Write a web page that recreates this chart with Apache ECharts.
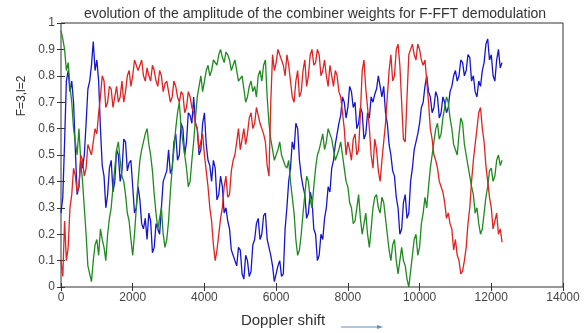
<!DOCTYPE html>
<html>
<head>
<meta charset="utf-8">
<script src="https://cdn.jsdelivr.net/npm/echarts@6/dist/echarts.min.js"></script>
<style>
  html, body { margin: 0; padding: 0; background: #fff; }
  #chart { width: 584px; height: 333px; }
</style>
</head>
<body>
<div id="chart"></div>
<script>
// one sample every 50 Hz of Doppler shift, starting at 0
var step = 50;

var blue = [
  0.28, 0.34, 0.55, 0.78, 0.82, 0.74, 0.78, 0.70, 0.52, 0.35,
  0.38, 0.48, 0.45, 0.50, 0.62, 0.75, 0.78, 0.84, 0.93, 0.82,
  0.86, 0.78, 0.60, 0.46, 0.42, 0.30, 0.35, 0.45, 0.48, 0.36,
  0.40, 0.52, 0.50, 0.40, 0.44, 0.56, 0.55, 0.44, 0.47, 0.48,
  0.38, 0.28, 0.30, 0.38, 0.33, 0.24, 0.22, 0.26, 0.18, 0.28,
  0.25, 0.13, 0.15, 0.24, 0.22, 0.20, 0.30, 0.40, 0.42, 0.44,
  0.52, 0.43, 0.45, 0.55, 0.58, 0.48, 0.50, 0.62, 0.60, 0.50,
  0.55, 0.66, 0.65, 0.62, 0.72, 0.62, 0.60, 0.50, 0.52, 0.62,
  0.66, 0.54, 0.48, 0.46, 0.40, 0.48, 0.45, 0.33, 0.35, 0.42,
  0.38, 0.28, 0.30, 0.25, 0.22, 0.14, 0.12, 0.12, 0.08, 0.15,
  0.14, 0.05, 0.03, 0.12, 0.10, 0.04, 0.06, 0.16, 0.18, 0.24,
  0.26, 0.18, 0.20, 0.27, 0.28, 0.18, 0.15, 0.12, 0.08, 0.02,
  0.02, 0.08, 0.10, 0.04, 0.05, 0.22, 0.30, 0.40, 0.45, 0.55,
  0.52, 0.62, 0.60, 0.48, 0.42, 0.38, 0.35, 0.26, 0.28, 0.36,
  0.33, 0.22, 0.20, 0.10, 0.12, 0.20, 0.18, 0.26, 0.30, 0.38,
  0.36, 0.45, 0.48, 0.54, 0.58, 0.62, 0.65, 0.72, 0.70, 0.64,
  0.68, 0.76, 0.74, 0.68, 0.70, 0.60, 0.62, 0.68, 0.66, 0.56,
  0.58, 0.66, 0.64, 0.72, 0.70, 0.73, 0.75, 0.80, 0.80, 0.72,
  0.76, 0.66, 0.62, 0.54, 0.50, 0.44, 0.42, 0.34, 0.30, 0.20,
  0.22, 0.32, 0.35, 0.26, 0.28, 0.40, 0.45, 0.52, 0.55, 0.58,
  0.62, 0.68, 0.70, 0.76, 0.80, 0.74, 0.72, 0.66, 0.68, 0.74,
  0.72, 0.64, 0.66, 0.72, 0.70, 0.66, 0.68, 0.74, 0.76, 0.80,
  0.82, 0.78, 0.80, 0.86, 0.85, 0.80, 0.82, 0.88, 0.87, 0.78,
  0.80, 0.74, 0.72, 0.78, 0.76, 0.82, 0.85, 0.92, 0.94, 0.86,
  0.88, 0.80, 0.78, 0.86, 0.90, 0.83, 0.85
];

var red = [
  0.10, 0.04, 0.25, 0.10, 0.15, 0.30, 0.35, 0.45, 0.42, 0.36,
  0.38, 0.50, 0.48, 0.42, 0.45, 0.54, 0.52, 0.50, 0.55, 0.60,
  0.58, 0.66, 0.72, 0.80, 0.78, 0.68, 0.70, 0.76, 0.75, 0.68,
  0.72, 0.76, 0.70, 0.72, 0.78, 0.70, 0.74, 0.80, 0.82, 0.76,
  0.80, 0.86, 0.86, 0.82, 0.84, 0.86, 0.80, 0.78, 0.83, 0.80,
  0.78, 0.84, 0.82, 0.78, 0.76, 0.82, 0.80, 0.74, 0.77, 0.78,
  0.74, 0.70, 0.72, 0.78, 0.76, 0.72, 0.70, 0.74, 0.73, 0.66,
  0.68, 0.74, 0.72, 0.68, 0.66, 0.62, 0.60, 0.52, 0.55, 0.58,
  0.50, 0.44, 0.38, 0.30, 0.25, 0.16, 0.10, 0.14, 0.20, 0.26,
  0.30, 0.38, 0.42, 0.34, 0.35, 0.44, 0.48, 0.50, 0.55, 0.60,
  0.52, 0.56, 0.60, 0.54, 0.58, 0.64, 0.66, 0.60, 0.62, 0.68,
  0.68, 0.62, 0.60, 0.58, 0.55, 0.46, 0.42, 0.70, 0.88, 0.82,
  0.85, 0.90, 0.90, 0.86, 0.84, 0.80, 0.88, 0.84, 0.78, 0.72,
  0.70, 0.78, 0.82, 0.72, 0.74, 0.82, 0.86, 0.76, 0.80, 0.88,
  0.90, 0.84, 0.85, 0.90, 0.88, 0.80, 0.82, 0.86, 0.80, 0.76,
  0.84, 0.80, 0.76, 0.82, 0.80, 0.74, 0.72, 0.66, 0.60, 0.50,
  0.55, 0.52, 0.48, 0.56, 0.58, 0.50, 0.52, 0.66, 0.82, 0.86,
  0.75, 0.68, 0.60, 0.50, 0.45, 0.56, 0.52, 0.44, 0.40, 0.48,
  0.55, 0.62, 0.72, 0.82, 0.88, 0.78, 0.80, 0.90, 0.92, 0.84,
  0.70, 0.56, 0.55, 0.72, 0.88, 0.90, 0.92, 0.88, 0.86, 0.92,
  0.90, 0.86, 0.84, 0.86, 0.78, 0.70, 0.60, 0.56, 0.50, 0.48,
  0.45, 0.40, 0.38, 0.36, 0.32, 0.26, 0.28, 0.24, 0.22, 0.14,
  0.18, 0.12, 0.10, 0.05, 0.06, 0.10, 0.15, 0.24, 0.30, 0.40,
  0.48, 0.54, 0.60, 0.66, 0.68, 0.60, 0.55, 0.46, 0.40, 0.34,
  0.30, 0.22, 0.25, 0.28, 0.20, 0.22, 0.17
];

var green = [
  0.97, 0.94, 0.90, 0.82, 0.85, 0.76, 0.70, 0.60, 0.55, 0.50,
  0.60, 0.48, 0.40, 0.30, 0.20, 0.08, 0.05, 0.02, 0.10, 0.16,
  0.18, 0.12, 0.22, 0.18, 0.15, 0.10, 0.20, 0.26, 0.30, 0.38,
  0.45, 0.52, 0.55, 0.48, 0.42, 0.40, 0.35, 0.28, 0.25, 0.18,
  0.12, 0.20, 0.30, 0.40, 0.48, 0.52, 0.55, 0.58, 0.60, 0.54,
  0.50, 0.44, 0.35, 0.28, 0.22, 0.26, 0.30, 0.20, 0.15, 0.18,
  0.25, 0.36, 0.45, 0.52, 0.60, 0.66, 0.70, 0.60, 0.55, 0.50,
  0.45, 0.38, 0.40, 0.48, 0.55, 0.64, 0.72, 0.76, 0.80, 0.74,
  0.78, 0.82, 0.84, 0.80, 0.82, 0.86, 0.86, 0.84, 0.88, 0.90,
  0.87, 0.85, 0.89, 0.88, 0.86, 0.82, 0.84, 0.86, 0.82, 0.78,
  0.78, 0.80, 0.75, 0.70, 0.72, 0.76, 0.78, 0.74, 0.76, 0.72,
  0.80, 0.82, 0.78, 0.84, 0.86, 0.72, 0.62, 0.56, 0.52, 0.48,
  0.48, 0.52, 0.55, 0.50, 0.50, 0.46, 0.45, 0.48, 0.40, 0.34,
  0.28, 0.18, 0.12, 0.14, 0.20, 0.28, 0.35, 0.42, 0.40, 0.33,
  0.30, 0.38, 0.45, 0.50, 0.52, 0.55, 0.58, 0.52, 0.55, 0.60,
  0.60, 0.56, 0.52, 0.48, 0.48, 0.52, 0.55, 0.50, 0.45, 0.40,
  0.38, 0.32, 0.30, 0.24, 0.25, 0.30, 0.35, 0.26, 0.20, 0.24,
  0.28, 0.20, 0.15, 0.22, 0.30, 0.34, 0.35, 0.30, 0.28, 0.34,
  0.32, 0.26, 0.20, 0.14, 0.10, 0.16, 0.18, 0.10, 0.05, 0.10,
  0.15, 0.10, 0.08, 0.03, 0.00, 0.06, 0.12, 0.18, 0.20, 0.12,
  0.15, 0.24, 0.28, 0.34, 0.30, 0.38, 0.45, 0.50, 0.55, 0.60,
  0.62, 0.56, 0.58, 0.64, 0.68, 0.72, 0.70, 0.64, 0.60, 0.54,
  0.52, 0.50, 0.58, 0.64, 0.62, 0.54, 0.50, 0.46, 0.42, 0.38,
  0.35, 0.28, 0.30, 0.24, 0.20, 0.22, 0.28, 0.34, 0.38, 0.44,
  0.45, 0.40, 0.42, 0.48, 0.50, 0.46, 0.48
];

function pairs(arr) {
  return arr.map(function (v, i) { return [i * step, v]; });
}

var myChart = echarts.init(document.getElementById('chart'), null, { renderer: 'canvas' });

var font = 'Liberation Sans, Arial, sans-serif';
var tickFont = { color: '#444', fontSize: 12, fontFamily: font };
var tickLine = { inside: true, length: 4, lineStyle: { color: '#333' } };

var option = {
  animation: false,
  backgroundColor: '#fff',
  title: {
    text: 'evolution of the amplitude of the combiner weights for F-FFT demodulation',
    left: 310,
    textAlign: 'center',
    top: 2,
    textStyle: { fontSize: 14, fontWeight: 'normal', color: '#333', fontFamily: font }
  },
  grid: {
    left: 61, right: 21, top: 23, bottom: 39,
    show: true, borderColor: '#333', borderWidth: 1
  },
  xAxis: [{
    type: 'value', min: 0, max: 14000, interval: 2000,
    axisLine: { show: false },
    axisTick: tickLine,
    splitLine: { show: false },
    axisLabel: Object.assign({ margin: 5, formatter: function (v) { return String(v); } }, tickFont),
    name: 'Doppler shift',
    nameLocation: 'middle',
    nameGap: 26,
    nameTextStyle: { fontSize: 15, color: '#333', fontFamily: font, padding: [0, 58, 0, 0] }
  }, {
    type: 'value', min: 0, max: 14000, interval: 2000, position: 'top',
    axisLine: { show: false }, axisTick: tickLine,
    axisLabel: { show: false }, splitLine: { show: false }
  }],
  yAxis: [{
    type: 'value', min: 0, max: 1, interval: 0.1,
    axisLine: { show: false },
    axisTick: tickLine,
    splitLine: { show: false },
    axisLabel: Object.assign({ margin: 6, formatter: function (v) { return String(Math.round(v * 10) / 10); } }, tickFont)
  }, {
    type: 'value', min: 0, max: 1, interval: 0.1, position: 'right',
    axisLine: { show: false }, axisTick: tickLine,
    axisLabel: { show: false }, splitLine: { show: false }
  }],
  graphic: [{
    // y axis title, placed level with the upper ticks as in the source figure
    type: 'text',
    x: 22, y: 96,
    rotation: Math.PI / 2,
    style: { text: 'F=3,l=2', fill: '#333', fontSize: 12, fontFamily: font, align: 'center', verticalAlign: 'middle' }
  }, {
    type: 'line',
    shape: { x1: 341, y1: 327, x2: 380, y2: 327 },
    style: { stroke: '#5b8fc7', lineWidth: 1 }
  }, {
    type: 'polygon',
    shape: { points: [[383, 327], [377, 325], [377, 329]] },
    style: { fill: '#5b8fc7' }
  }],
  series: [{
    name: 'blue', type: 'line', data: pairs(blue), showSymbol: false,
    lineStyle: { color: '#1515d0', width: 1.3 }
  }, {
    name: 'green', type: 'line', data: pairs(green), showSymbol: false,
    lineStyle: { color: '#1f8a1f', width: 1.3 }
  }, {
    name: 'red', type: 'line', data: pairs(red), showSymbol: false,
    lineStyle: { color: '#e02222', width: 1.3 }
  }]
};

myChart.setOption(option);
</script>
</body>
</html>
